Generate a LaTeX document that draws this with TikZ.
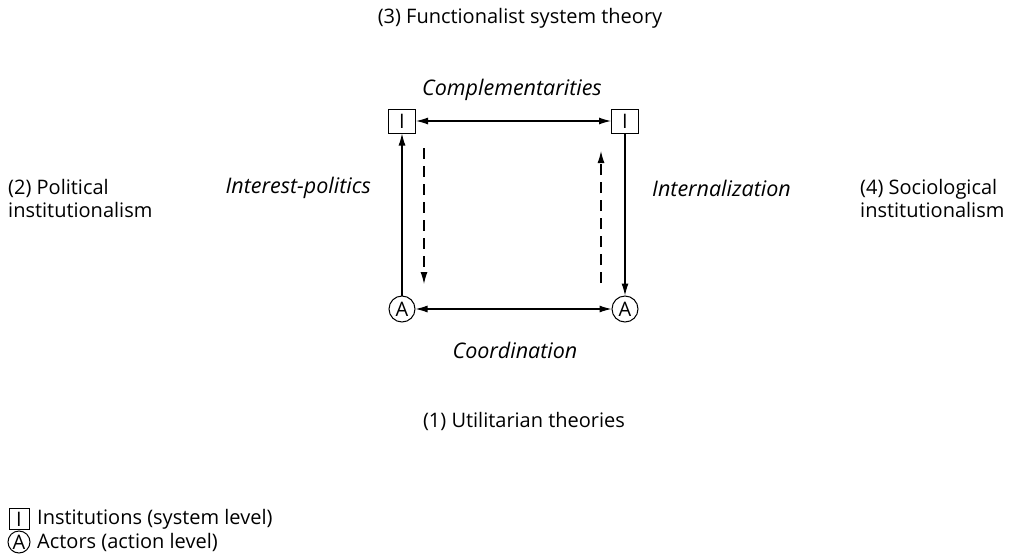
\documentclass[tikz,border=0pt]{standalone}
\usepackage{fontspec}
\setmainfont{Open Sans}
\usetikzlibrary{arrows.meta}
\begin{document}
\begin{tikzpicture}[x=1pt,y=-1pt,
  every node/.style={font=\fontsize{20}{23}\selectfont, inner sep=0pt},
  inst/.style={draw, line width=1pt, minimum width=27pt, minimum height=24pt, font=\fontsize{20}{23}\selectfont},
  act/.style={draw, circle, line width=1pt, minimum size=26pt, font=\fontsize{20}{23}\selectfont},
  conn/.style={line width=1.1pt, -{Latex[length=12pt,width=7pt]}},
  biconn/.style={line width=1.1pt, {Latex[length=12pt,width=7pt]}-{Latex[length=12pt,width=7pt]}},
  dconn/.style={line width=1.1pt, dash pattern=on 11pt off 7pt, -{Latex[length=12pt,width=7pt]}},
  lab/.style={font=\fontsize{21.5}{24}\selectfont\itshape},
  theory/.style={font=\fontsize{20}{23}\selectfont, align=left}
]
\useasboundingbox (0,0) rectangle (1012,555);
% nodes
\node[inst] (I1) at (402,121) {I};
\node[inst] (I2) at (625,121) {I};
\node[act] (A1) at (402,309) {A};
\node[act] (A2) at (625,309) {A};
% connectors
\draw[biconn] (I1) -- (I2);
\draw[biconn] (A1) -- (A2);
\draw[conn] (A1) -- (I1);
\draw[conn] (I2) -- (A2);
\coordinate (d1s) at (424,148);
\coordinate (d1e) at (424,284);
\coordinate (d2s) at (601,283);
\coordinate (d2e) at (601,151);
\draw[dconn] (d1s) -- (d1e);
\draw[dconn] (d2s) -- (d2e);
% labels
\node[lab] (comp) at (512,90) {Complementarities};
\node[lab] (coord) at (515,350) {Coordination};
\node[lab, anchor=east] (intp) at (371,188) {Interest-politics};
\node[lab, anchor=west] (intz) at (652,188) {Internalization};
% theories
\node[theory] (t3) at (520,18) {(3) Functionalist system theory};
\node[theory] (t1) at (524,421) {(1) Utilitarian theories};
\node[theory, anchor=west] (t2) at (8,198) {(2) Political\\institutionalism};
\node[theory, anchor=west] (t4) at (860,198) {(4) Sociological\\institutionalism};
% legend
\node[inst, minimum width=20pt, minimum height=21pt] (LI) at (19,519) {I};
\node[act, minimum size=22pt] (LA) at (19,542) {A};
\node[theory, anchor=west] (LIt) at (37,519) {Institutions (system level)};
\node[theory, anchor=west] (LAt) at (37,542) {Actors (action level)};
\end{tikzpicture}
\end{document}
